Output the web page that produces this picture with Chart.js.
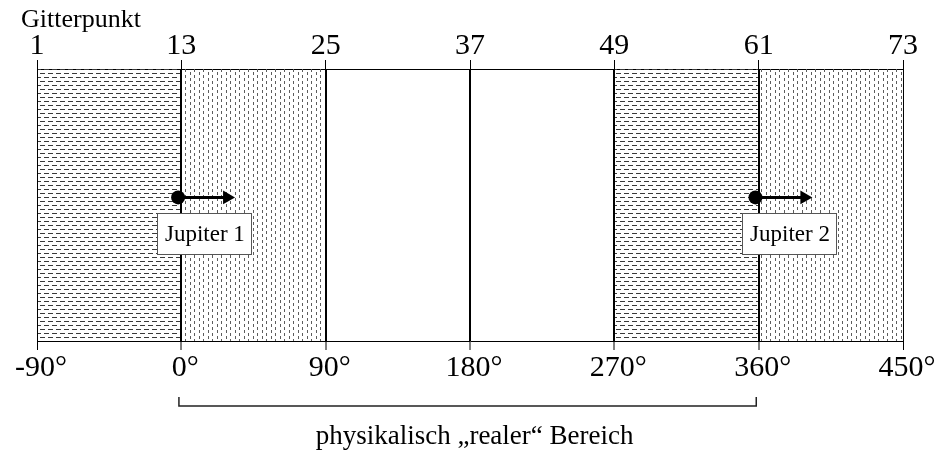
<!DOCTYPE html>
<html>
<head>
<meta charset="utf-8">
<script src="https://cdn.jsdelivr.net/npm/chart.js@4/dist/chart.umd.min.js"></script>
<style>
    html, body { margin: 0; padding: 0; background: #ffffff; }
    #wrap { width: 944px; height: 452px; }
</style>
</head>
<body>
<div id="wrap"><canvas id="gridChart"></canvas></div>
<script>
const degreeTicks = [-90, 0, 90, 180, 270, 360, 450];
const gridPointTicks = [1, 13, 25, 37, 49, 61, 73];
const regionStarts = [-90, 0, 90, 270, 360];
const regionEnds = [0, 90, 270, 360, 450];
const regionHatch = ["horizontal", "vertical", "none", "horizontal", "vertical"];
const dividerDegrees = [0, 90, 180, 270, 360];
const jupiterNames = ["Jupiter 1", "Jupiter 2"];
const jupiterDegrees = [-2, 358];
const arrowEndDegrees = [28.5, 388.5];
const jupiterLevel = 0.528;
const labelDegrees = [14.1, 378.9];
const labelLevel = 0.395;
const bracketRange = [-1.5, 358.5];
const topTitle = "Gitterpunkt";
const bracketCaption = "physikalisch \u201Erealer\u201C Bereich";

const serif = "'Liberation Serif', 'Times New Roman', serif";

const makeHatch = (kind) =>
{
    const tile = document.createElement("canvas");
    const ctx = tile.getContext("2d");
    if (kind === "horizontal")
    {
        tile.width = 8;
        tile.height = 8;
        ctx.fillStyle = "#3a3a3a";
        ctx.fillRect(0, 1, 5, 1);
        ctx.fillRect(4, 5, 4, 1);
        ctx.fillRect(0, 5, 1, 1);
    }
    else
    {
        // short vertical dashes, alternate columns shifted half a period
        tile.width = 9;
        tile.height = 6;
        ctx.fillStyle = "#5c5c5c";
        ctx.fillRect(1, 0, 1, 3);
        ctx.fillRect(5, 3, 1, 3);
    }
    return ctx.createPattern(tile, "repeat");
};

const regionDatasets = regionStarts.map((start, i) =>
{
    return {
        data: [{x: start, y: 1}, {x: regionEnds[i], y: 1}],
        showLine: true,
        borderWidth: 0,
        borderColor: "rgba(0,0,0,0)",
        pointRadius: 0,
        fill: regionHatch[i] === "none" ? false : "start",
        backgroundColor: regionHatch[i] === "none" ? "rgba(0,0,0,0)" : makeHatch(regionHatch[i]),
        order: 3
    };
});

const arrowDatasets = jupiterDegrees.map((deg, i) =>
{
    return {
        data: [{x: deg, y: jupiterLevel}, {x: arrowEndDegrees[i], y: jupiterLevel}],
        showLine: true,
        borderColor: "#000000",
        borderWidth: 3,
        pointRadius: [7, 8],
        pointStyle: ["circle", "triangle"],
        pointRotation: [0, 90],
        pointBackgroundColor: "#000000",
        pointBorderColor: "#000000",
        pointBorderWidth: 0,
        order: 1
    };
});

const annotationPlugin = {
    id: "annotations",
    afterDraw(chart)
    {
        const ctx = chart.ctx;
        const xs = chart.scales.x;
        const ys = chart.scales.y;
        ctx.save();

        ctx.fillStyle = "#000000";
        ctx.font = "26px " + serif;
        ctx.textAlign = "left";
        ctx.textBaseline = "alphabetic";
        ctx.fillText(topTitle, 21, 27);

        ctx.font = "23px " + serif;
        jupiterNames.forEach((name, i) =>
        {
            const cx = xs.getPixelForValue(labelDegrees[i]);
            const cy = ys.getPixelForValue(labelLevel);
            const w = ctx.measureText(name).width + 14;
            const h = 41;
            ctx.fillStyle = "#ffffff";
            ctx.fillRect(cx - w / 2, cy - h / 2, w, h);
            ctx.strokeStyle = "#555555";
            ctx.lineWidth = 1;
            ctx.strokeRect(Math.round(cx - w / 2) + 0.5, Math.round(cy - h / 2) + 0.5, Math.round(w), h);
            ctx.fillStyle = "#000000";
            ctx.textAlign = "center";
            ctx.textBaseline = "middle";
            ctx.fillText(name, cx + 1, cy + 1);
        });

        const bx0 = xs.getPixelForValue(bracketRange[0]);
        const bx1 = xs.getPixelForValue(bracketRange[1]);
        ctx.strokeStyle = "#222222";
        ctx.lineWidth = 1.5;
        ctx.beginPath();
        ctx.moveTo(bx0, 397);
        ctx.lineTo(bx0, 406);
        ctx.lineTo(bx1, 406);
        ctx.lineTo(bx1, 397);
        ctx.stroke();

        ctx.fillStyle = "#000000";
        ctx.font = "27px " + serif;
        ctx.textAlign = "center";
        ctx.textBaseline = "alphabetic";
        ctx.fillText(bracketCaption, (bx0 + bx1) / 2 + 7, 444);

        ctx.restore();
    }
};

const gridChart = new Chart(document.getElementById("gridChart"), {
    type: "scatter",
    data: {
        datasets: [...regionDatasets, ...arrowDatasets]
    },
    options: {
        responsive: true,
        maintainAspectRatio: false,
        animation: false,
        layout: {
            padding: {left: 37, right: 41, top: 0, bottom: 0}
        },
        plugins: {
            legend: {display: false},
            tooltip: {enabled: false}
        },
        scales: {
            x: {
                type: "linear",
                position: "bottom",
                min: degreeTicks[0],
                max: degreeTicks[degreeTicks.length - 1],
                afterBuildTicks: (scale) =>
                {
                    scale.ticks = degreeTicks.map(v => ({value: v}));
                },
                afterFit: (scale) =>
                {
                    scale.height = 111;
                },
                ticks: {
                    color: "#000000",
                    font: {family: serif, size: 30},
                    padding: 0,
                    labelOffset: 4,
                    maxRotation: 0,
                    callback: (v) => v + "\u00B0"
                },
                grid: {
                    z: 1,
                    color: "#000000",
                    lineWidth: (ctx) => dividerDegrees.includes(ctx.tick && ctx.tick.value) ? 2 : 1,
                    tickLength: 9,
                    tickWidth: 1,
                    tickColor: "#000000"
                },
                // border must be drawn after the grid layer, which sets its position
                border: {display: true, color: "#000000", width: 1, z: 2}
            },
            xTop: {
                type: "linear",
                position: "top",
                min: gridPointTicks[0],
                max: gridPointTicks[gridPointTicks.length - 1],
                afterBuildTicks: (scale) =>
                {
                    scale.ticks = gridPointTicks.map(v => ({value: v}));
                },
                afterFit: (scale) =>
                {
                    scale.height = 69;
                },
                ticks: {
                    color: "#000000",
                    font: {family: serif, size: 30},
                    padding: -4,
                    maxRotation: 0
                },
                grid: {
                    drawOnChartArea: false,
                    color: "#000000",
                    tickLength: 9,
                    tickWidth: 1
                },
                border: {display: true, color: "#000000", width: 1}
            },
            y: {
                type: "linear",
                min: 0,
                max: 1,
                display: false
            }
        }
    },
    plugins: [annotationPlugin]
});
</script>
</body>
</html>
